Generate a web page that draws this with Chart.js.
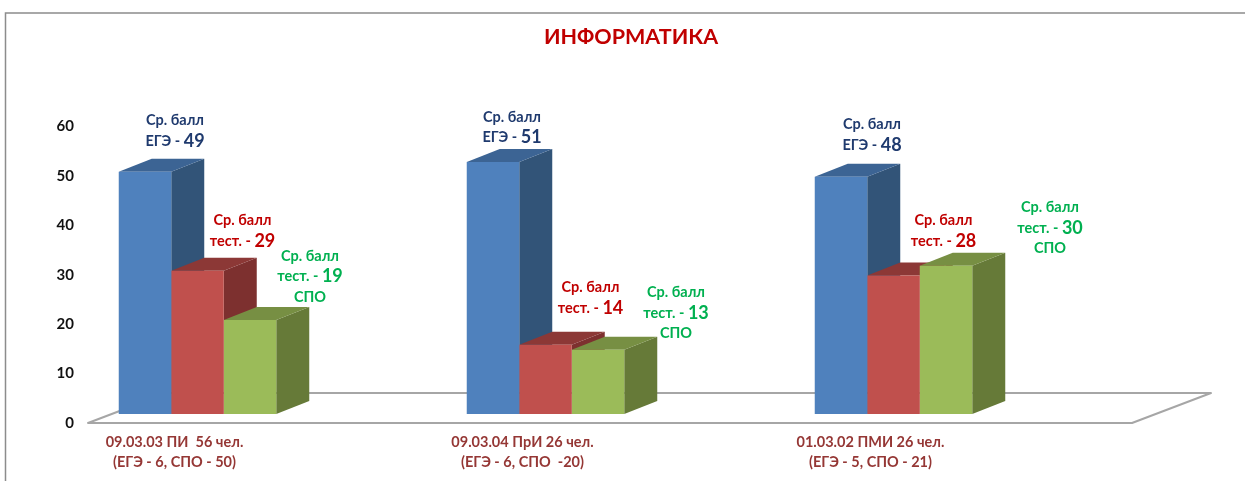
<!DOCTYPE html>
<html lang="ru">
<head>
<meta charset="utf-8">
<title>ИНФОРМАТИКА</title>
<style>html,body{margin:0;padding:0;background:#fff}canvas{display:block}</style>
<script src="https://cdn.jsdelivr.net/npm/chart.js@4/dist/chart.umd.min.js"></script>
</head>
<body>
<canvas id="c" width="1245" height="481"></canvas>
<script>
const chartTitle = 'ИНФОРМАТИКА';
const categories = [
  ['09.03.03 ПИ  56 чел.', '(ЕГЭ - 6, СПО - 50)'],
  ['09.03.04 ПрИ 26 чел.', '(ЕГЭ - 6, СПО  -20)'],
  ['01.03.02 ПМИ 26 чел.', '(ЕГЭ - 5, СПО - 21)']
];
const egeValues  = [49, 51, 48];
const testValues = [29, 14, 28];
const spoValues  = [19, 13, 30];
const seriesNames = ['Ср. балл ЕГЭ', 'Ср. балл тест.', 'Ср. балл тест. СПО'];

const FONT = 'Lato, Carlito, sans-serif';
const DEPTH_X = 33, DEPTH_Y = 13;
const palette = [
  {front:'#4F81BD', top:'#3C6494', side:'#325478', text:'#1F3A6E'},
  {front:'#C0504D', top:'#8C3836', side:'#7D302F', text:'#C00000'},
  {front:'#9BBB59', top:'#778F43', side:'#667A38', text:'#00B050'}
];
// annotation text for each series
const labelLines = [
  ['Ср. балл', 'ЕГЭ - '],
  ['Ср. балл', 'тест. - '],
  ['Ср. балл', 'тест. - ', 'СПО']
];
// annotation placement: [dx from bar centre, dy of first line above bar top]
const labelPlacement = [
  [[30,51],[19,45],[31,52]],
  [[45,50],[45,57],[50,55]],
  [[60,64],[78,57],[104,58]]
];
const LINE_GAP = 20.5;

const frameBox = {
  id:'frameBox',
  beforeDraw(chart){
    const {ctx} = chart;
    ctx.save();
    ctx.strokeStyle = '#8C8C8C';
    ctx.lineWidth = 1.5;
    ctx.beginPath();
    ctx.moveTo(5.5, 481);
    ctx.lineTo(5.5, 13);
    ctx.lineTo(1245, 13);
    ctx.stroke();
    ctx.restore();
  }
};

const bars3d = {
  id:'bars3d',
  beforeDatasetsDraw(chart){
    const {ctx, scales} = chart;
    const y0 = scales.y.getPixelForValue(0);
    const xs = scales.x.getPixelForValue(0);
    const xe = scales.x.getPixelForValue(2);
    // floor
    ctx.save();
    ctx.strokeStyle = '#A6A6A6';
    ctx.lineWidth = 2;
    ctx.lineJoin = 'round';
    ctx.beginPath();
    ctx.moveTo(xs - 109.5, y0 + 9);
    ctx.lineTo(xe + 238.5, y0 + 9);
    ctx.lineTo(xe + 317.5, y0 - 21);
    ctx.lineTo(xs - 30.5, y0 - 21);
    ctx.closePath();
    ctx.stroke();
    // faces, back to front, left to right
    for (let i = 0; i < categories.length; i++) {
      for (let d = 0; d < chart.data.datasets.length; d++) {
        const el = chart.getDatasetMeta(d).data[i];
        const l = el.x - el.width/2, r = el.x + el.width/2, t = el.y, b = el.base;
        ctx.fillStyle = palette[d].side;
        ctx.beginPath();
        ctx.moveTo(r, t); ctx.lineTo(r+DEPTH_X, t-DEPTH_Y);
        ctx.lineTo(r+DEPTH_X, b-DEPTH_Y); ctx.lineTo(r, b);
        ctx.closePath(); ctx.fill();
        ctx.fillStyle = palette[d].top;
        ctx.beginPath();
        ctx.moveTo(l, t); ctx.lineTo(l+DEPTH_X, t-DEPTH_Y);
        ctx.lineTo(r+DEPTH_X, t-DEPTH_Y); ctx.lineTo(r, t);
        ctx.closePath(); ctx.fill();
      }
    }
    ctx.restore();
  },
  afterDatasetsDraw(chart){
    const {ctx} = chart;
    ctx.save();
    ctx.textBaseline = 'middle';
    ctx.textAlign = 'left';
    chart.data.datasets.forEach((ds, d) => {
      chart.getDatasetMeta(d).data.forEach((el, i) => {
        const [dx, dy] = labelPlacement[d][i];
        const cx = el.x + dx;
        let y = el.y - dy;
        labelLines[d].forEach((line, li) => {
          ctx.fillStyle = palette[d].text;
          const small = 'bold 14.5px ' + FONT, big = 'bold 18px ' + FONT;
          if (li === 1) {
            const num = String(ds.data[i]);
            ctx.font = small; const w1 = ctx.measureText(line).width;
            ctx.font = big; const w2 = ctx.measureText(num).width;
            const x = cx - (w1 + w2)/2;
            ctx.font = small; ctx.fillText(line, x, y);
            ctx.font = big; ctx.fillText(num, x + w1, y);
          } else {
            ctx.font = small;
            ctx.fillText(line, cx - ctx.measureText(line).width/2, y);
          }
          y += LINE_GAP;
        });
      });
    });
    ctx.restore();
  }
};

new Chart(document.getElementById('c'), {
  type:'bar',
  data:{
    labels:categories,
    datasets:[egeValues, testValues, spoValues].map((v, d) => ({
      label:seriesNames[d], data:v, backgroundColor:palette[d].front, borderWidth:0
    }))
  },
  options:{
    responsive:false,
    animation:false,
    barPercentage:1,
    categoryPercentage:0.4526,
    layout:{padding:{left:23.5, right:6.5, top:0, bottom:0}},
    plugins:{
      legend:{display:false},
      tooltip:{enabled:false},
      title:{
        display:true, text:chartTitle, color:'#C00000',
        font:{family:FONT, size:21.5, weight:'bold', lineHeight:1.2},
        padding:{top:24, bottom:67.6}
      }
    },
    scales:{
      x:{
        offset:true,
        grid:{display:false, drawTicks:false},
        border:{display:false},
        ticks:{
          autoSkip:false, maxRotation:0, padding:19, labelOffset:-23, color:'#953735',
          font:{family:FONT, size:14.5, weight:'bold', lineHeight:1.33}
        },
        afterFit(s){ s.height = 67; }
      },
      y:{
        min:0, max:60,
        position:{x:-0.355},
        grid:{display:false, drawTicks:false},
        border:{display:false},
        ticks:{
          stepSize:10, padding:0, labelOffset:9, color:'#111111',
          font:{family:FONT, size:15, weight:'bold'}
        }
      },
      spacer:{
        position:'right', min:0, max:60,
        grid:{display:false, drawTicks:false},
        border:{display:false},
        ticks:{display:false},
        afterFit(s){ s.width = 171; }
      }
    }
  },
  plugins:[frameBox, bars3d]
});
</script>
</body>
</html>
